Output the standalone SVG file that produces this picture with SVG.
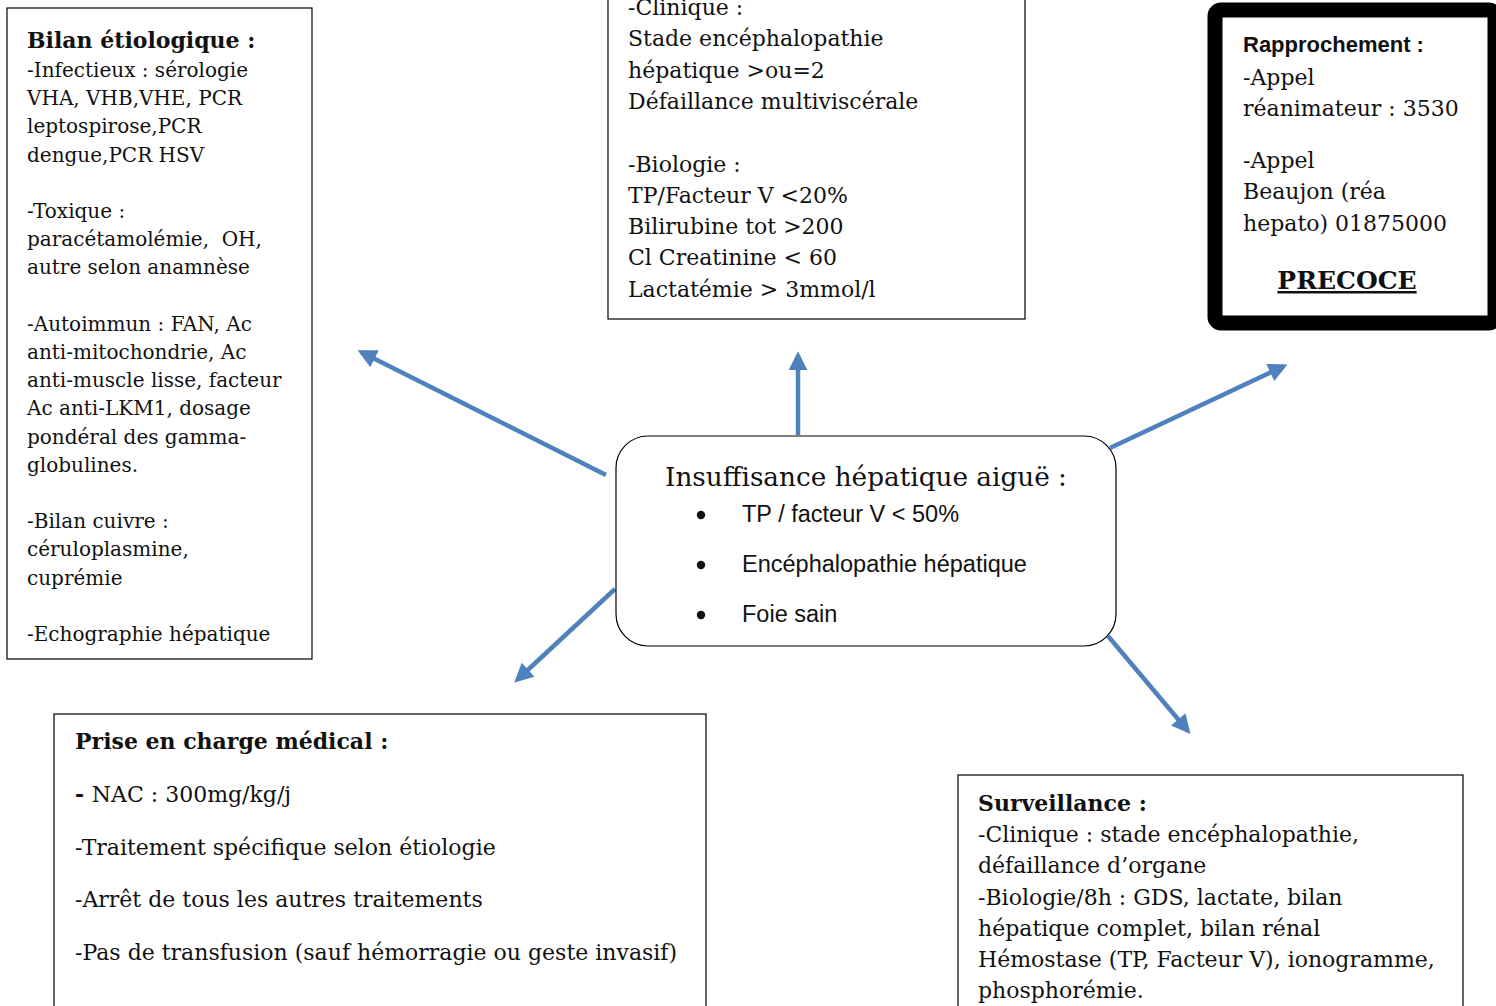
<svg xmlns="http://www.w3.org/2000/svg" width="1496" height="1006" viewBox="0 0 1496 1006">
<style>
.box{fill:#fff;stroke:#000;stroke-width:1.2}
.s{font-family:"DejaVu Serif","Liberation Serif",serif;fill:#111}
.s20{font-size:20px}
.s22{font-size:22px}
.b{font-weight:bold}
.sans{font-family:"Liberation Sans",Arial,sans-serif;fill:#111}
.conn{stroke:#4F81BD;stroke-width:4.5;fill:none;marker-end:url(#ah)}
</style>
<defs>
<marker id="ah" viewBox="0 0 10 10" refX="8" refY="5" markerWidth="5" markerHeight="4.2" orient="auto" markerUnits="strokeWidth">
<path d="M0,0 L10,5 L0,10 Z" fill="#4F81BD"/>
</marker>
</defs>
<rect width="1496" height="1006" fill="#fff"/>

<g id="connectors">
<line class="conn" x1="606" y1="475" x2="361" y2="352"/>
<line class="conn" x1="798" y1="435" x2="798" y2="355"/>
<line class="conn" x1="1110" y1="448" x2="1284" y2="366"/>
<line class="conn" x1="615" y1="589" x2="517" y2="680"/>
<line class="conn" x1="1108" y1="636" x2="1188" y2="731"/>
</g>

<g id="center">
<rect x="616" y="436" width="500" height="210" rx="32" class="box"/>
<text class="s" x="866" y="486" font-size="26.3" text-anchor="middle">Insuffisance hépatique aiguë :</text>
<circle cx="701" cy="515" r="4.2" fill="#111"/>
<circle cx="701" cy="565" r="4.2" fill="#111"/>
<circle cx="701" cy="615" r="4.2" fill="#111"/>
<text class="sans" x="742" y="522" font-size="23.5">TP / facteur V &lt; 50%</text>
<text class="sans" x="742" y="572" font-size="23.5">Encéphalopathie hépatique</text>
<text class="sans" x="742" y="622" font-size="23.5">Foie sain</text>
</g>

<g id="bilan">
<rect x="7" y="8" width="305" height="651" class="box"/>
<text class="s b" x="27" y="48" font-size="22">Bilan étiologique :</text>
<text class="s s20">
<tspan x="27" y="77">-Infectieux : sérologie</tspan>
<tspan x="27" y="105.2">VHA, VHB,VHE, PCR</tspan>
<tspan x="27" y="133.4">leptospirose,PCR</tspan>
<tspan x="27" y="161.6">dengue,PCR HSV</tspan>
<tspan x="27" y="218">-Toxique :</tspan>
<tspan x="27" y="246.2">paracétamolémie,&#160; OH,</tspan>
<tspan x="27" y="274.4">autre selon anamnèse</tspan>
<tspan x="27" y="330.8">-Autoimmun : FAN, Ac</tspan>
<tspan x="27" y="359">anti-mitochondrie, Ac</tspan>
<tspan x="27" y="387.2">anti-muscle lisse, facteur</tspan>
<tspan x="27" y="415.4">Ac anti-LKM1, dosage</tspan>
<tspan x="27" y="443.6">pondéral des gamma-</tspan>
<tspan x="27" y="471.8">globulines.</tspan>
<tspan x="27" y="528.2">-Bilan cuivre :</tspan>
<tspan x="27" y="556.4">céruloplasmine,</tspan>
<tspan x="27" y="584.6">cuprémie</tspan>
<tspan x="27" y="641">-Echographie hépatique</tspan>
</text>
</g>

<g id="criteres">
<rect x="608" y="-10" width="417" height="329" class="box"/>
<text class="s s22">
<tspan x="628" y="15">-Clinique :</tspan>
<tspan x="628" y="46.3">Stade encéphalopathie</tspan>
<tspan x="628" y="77.6">hépatique &gt;ou=2</tspan>
<tspan x="628" y="108.9">Défaillance multiviscérale</tspan>
<tspan x="628" y="171.5">-Biologie :</tspan>
<tspan x="628" y="202.8">TP/Facteur V &lt;20%</tspan>
<tspan x="628" y="234.1">Bilirubine tot &gt;200</tspan>
<tspan x="628" y="265.4">Cl Creatinine &lt; 60</tspan>
<tspan x="628" y="296.7">Lactatémie &gt; 3mmol/l</tspan>
</text>
</g>

<g id="rapprochement">
<rect x="1215" y="10" width="280" height="313" rx="6" fill="#fff" stroke="#000" stroke-width="15"/>
<text class="sans b" x="1243" y="52" font-size="22">Rapprochement :</text>
<text class="s s22">
<tspan x="1243" y="85">-Appel</tspan>
<tspan x="1243" y="116">réanimateur : 3530</tspan>
<tspan x="1243" y="168">-Appel</tspan>
<tspan x="1243" y="199">Beaujon (réa</tspan>
<tspan x="1243" y="231">hepato) 01875000</tspan>
</text>
<text class="s b" x="1347" y="289" font-size="25" text-anchor="middle" text-decoration="underline">PRECOCE</text>
</g>

<g id="prise-en-charge">
<rect x="54" y="714" width="652" height="310" class="box"/>
<text class="s b" x="75" y="749" font-size="22">Prise en charge médical :</text>
<text class="s s22">
<tspan x="75" y="802"><tspan font-weight="bold">- </tspan>NAC : 300mg/kg/j</tspan>
<tspan x="75" y="855">-Traitement spécifique selon étiologie</tspan>
<tspan x="75" y="907">-Arrêt de tous les autres traitements</tspan>
<tspan x="75" y="960">-Pas de transfusion (sauf hémorragie ou geste invasif)</tspan>
</text>
</g>

<g id="surveillance">
<rect x="958" y="775" width="505" height="250" class="box"/>
<text class="s b" x="978" y="811" font-size="22">Surveillance :</text>
<text class="s s22">
<tspan x="978" y="842">-Clinique : stade encéphalopathie,</tspan>
<tspan x="978" y="873">défaillance d’organe</tspan>
<tspan x="978" y="905">-Biologie/8h : GDS, lactate, bilan</tspan>
<tspan x="978" y="936">hépatique complet, bilan rénal</tspan>
<tspan x="978" y="967">Hémostase (TP, Facteur V), ionogramme,</tspan>
<tspan x="978" y="998">phosphorémie.</tspan>
</text>
</g>
</svg>
